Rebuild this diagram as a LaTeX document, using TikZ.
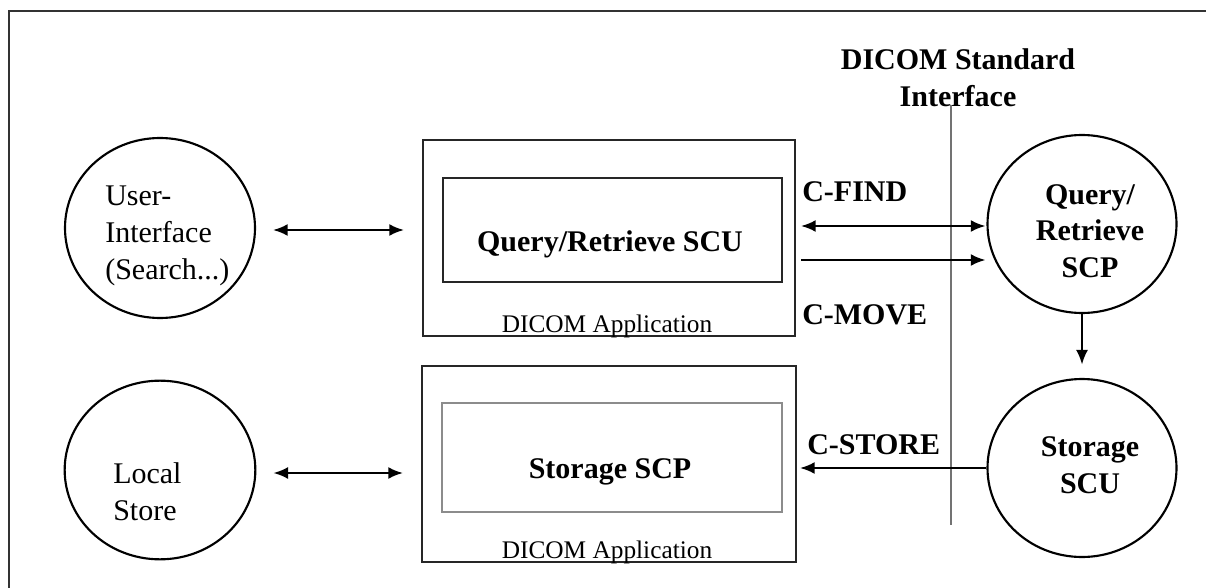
\documentclass[tikz,border=0pt]{standalone}
\usepackage{fontspec}
\setmainfont{Liberation Serif}
\usetikzlibrary{arrows.meta,shapes.geometric}
\tikzset{
  px/.style={x=0.75pt,y=-0.75pt},
  circ/.style={draw=black,ellipse,line width=1.6pt,inner sep=0pt},
  box/.style={draw=black!85,rectangle,line width=1.6pt,inner sep=0pt},
  graybox/.style={draw=black!45,rectangle,line width=1.2pt,inner sep=0pt},
  lbl/.style={font=\fontsize{22.5}{27.5}\selectfont,inner sep=0pt},
  blbl/.style={font=\fontsize{22.5}{27.5}\selectfont\bfseries,inner sep=0pt},
  small/.style={font=\fontsize{19}{22}\selectfont,inner sep=0pt},
  tip/.style={Latex[length=11pt,width=9pt]},
  conn/.style={line width=1.6pt,-{Latex[length=11pt,width=9pt]}},
  dconn/.style={line width=1.6pt,{Latex[length=11pt,width=9pt]}-{Latex[length=11pt,width=9pt]}},
}
\begin{document}
\begin{tikzpicture}[px]
\useasboundingbox (0,0) rectangle (1206,588);
% frame
\draw[line width=1.5pt,black!80] (9,588) -- (9,11) -- (1206,11);

% circles
\node[circ,minimum width=142.5pt,minimum height=135pt] (ui) at (160,228) {};
\node[circ,minimum width=143pt,minimum height=134pt] (ls) at (160,470) {};
\node[circ,minimum width=141.75pt,minimum height=133.5pt] (qr) at (1082,224) {};
\node[circ,minimum width=141.75pt,minimum height=133.5pt] (su) at (1082,468) {};

% boxes
\node[box,minimum width=279pt,minimum height=147pt] (app1) at (609,238) {};
\node[box,minimum width=254.25pt,minimum height=78pt] (scu) at (612.5,230) {};
\node[box,minimum width=280.5pt,minimum height=147pt] (app2) at (609,464) {};
\node[graybox,minimum width=255pt,minimum height=81.75pt] (scp) at (612,457.5) {};

% interface line
\coordinate (ifTop) at (951,105);
\coordinate (ifBot) at (951,525);
\draw[line width=0.8pt,black!55] (ifTop) -- (ifBot);

% texts
\node[lbl,anchor=west,align=left] (uit) at (105,236) {User-\\Interface\\(Search...)};
\node[lbl,anchor=west,align=left] (lst) at (113,492) {Local\\Store};
\node[blbl,align=center] (qrt) at (1090,231) {Query/\\Retrieve\\SCP};
\node[blbl,align=center] (sut) at (1090,465) {Storage\\SCU};
\node[blbl] (scut) at (610,244) {Query/Retrieve SCU};
\node[blbl] (scpt) at (610,472) {Storage SCP};
\node[small] (a1t) at (607,326) {DICOM Application};
\node[small] (a2t) at (607,552) {DICOM Application};
\node[blbl,align=center] (ift) at (958,78) {DICOM Standard\\Interface};
\node[blbl,anchor=west] (cfind) at (802,192) {C-FIND};
\node[blbl,anchor=west] (cmove) at (802,315) {C-MOVE};
\node[blbl,anchor=west] (cstore) at (807,445) {C-STORE};

% connectors
\draw[dconn] ([xshift=12.75pt,yshift=-1.5pt]ui.east) -- ([xshift=-13.5pt,yshift=-1.5pt]app1.west |- ui.east);
\draw[dconn] ([xshift=12.75pt,yshift=-2.25pt]ls.east) -- ([xshift=-13.5pt,yshift=-2.25pt]app2.west |- ls.east);
\draw[dconn] ([xshift=3.75pt,yshift=-1.5pt]app1.east |- qr.west) -- ([xshift=-0.75pt,yshift=-1.5pt]qr.west);
\draw[conn] ([xshift=3.75pt,yshift=-27pt]app1.east |- qr.west) -- ([xshift=-0.75pt,yshift=-27pt]qr.west);
\draw[conn,shorten >=10pt] (qr.south) -- (su.north);
\draw[conn] (su.west) -- ([xshift=2.25pt]app2.east |- su.west);
\end{tikzpicture}
\end{document}
